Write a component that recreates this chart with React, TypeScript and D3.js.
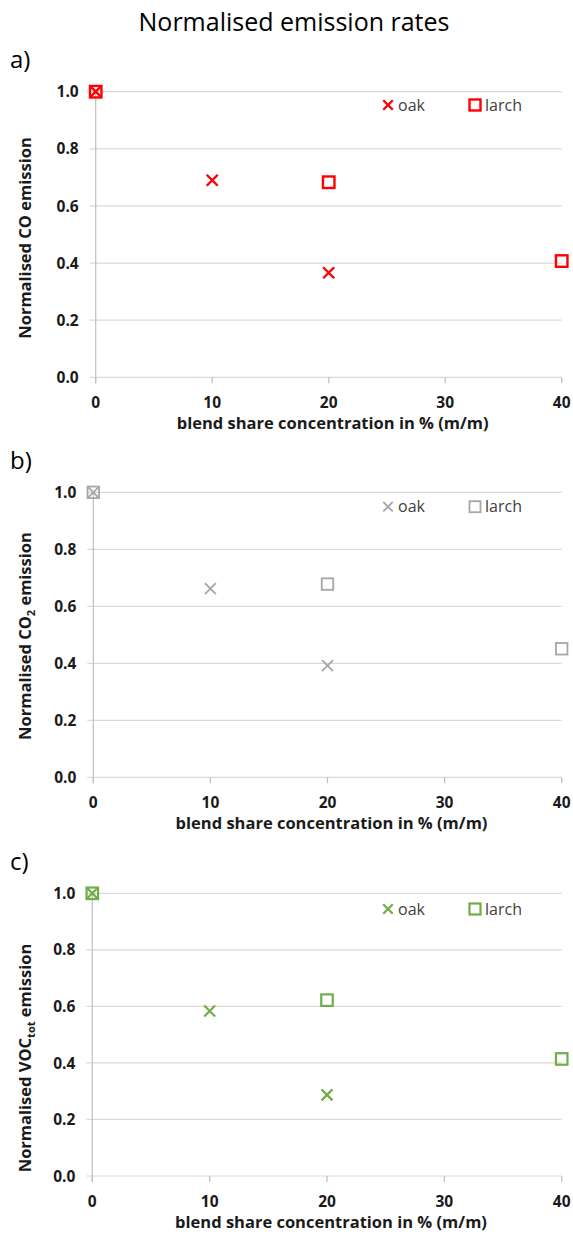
import React from "react";
import * as d3 from "d3";

// Blend share (% m/m) at which each wood type was measured
const oakShare = [0, 10, 20];
const larchShare = [0, 20, 40];

// Emission rates normalised to the pure fuel (share 0 %)
const coOak = [1.0, 0.69, 0.366];
const coLarch = [1.0, 0.683, 0.407];
const co2Oak = [1.0, 0.662, 0.392];
const co2Larch = [1.0, 0.678, 0.451];
const vocOak = [1.0, 0.584, 0.287];
const vocLarch = [1.0, 0.622, 0.414];

const xTicks = [0, 10, 20, 30, 40];
const yTicks = [0, 0.2, 0.4, 0.6, 0.8, 1.0];

const seriesNames = ["oak", "larch"];
const panelLetters = ["a)", "b)", "c)"];

const FONT = "'Open Sans', 'Noto Sans', sans-serif";
const GRID = "#d9d9d9";
const AXIS = "#bfbfbf";
const TICK_SIZE = 15.5;
const TITLE_SIZE = 16.5;

type Panel = {
  letter: string;
  color: string;
  sw: number;
  oak: number[];
  larch: number[];
  label: React.ReactNode;
  labelCenter: number;
  top: number;
  bottom: number;
  left: number;
  legendY: number;
  letterY: number;
};

const panels: Panel[] = [
  {
    letter: panelLetters[0],
    color: "#ff0000",
    sw: 2.4,
    oak: coOak,
    larch: coLarch,
    label: <tspan>Normalised CO emission</tspan>,
    labelCenter: 238,
    top: 91.7,
    bottom: 377.3,
    left: 95.7,
    legendY: 105,
    letterY: 68,
  },
  {
    letter: panelLetters[1],
    color: "#a6a6a6",
    sw: 1.8,
    oak: co2Oak,
    larch: co2Larch,
    label: (
      <>
        <tspan>Normalised CO</tspan>
        <tspan fontSize={11} dy={4}>2</tspan>
        <tspan dy={-4}> emission</tspan>
      </>
    ),
    labelCenter: 636,
    top: 492.3,
    bottom: 777.3,
    left: 93.3,
    legendY: 506.7,
    letterY: 469,
  },
  {
    letter: panelLetters[2],
    color: "#70ad47",
    sw: 2.2,
    oak: vocOak,
    larch: vocLarch,
    label: (
      <>
        <tspan>Normalised VOC</tspan>
        <tspan fontSize={11} dy={4}>tot</tspan>
        <tspan dy={-4}> emission</tspan>
      </>
    ),
    labelCenter: 1058,
    top: 893.3,
    bottom: 1176,
    left: 92.3,
    legendY: 909,
    letterY: 870,
  },
];

const RIGHT = 561.7;

function Cross({ x, y, s, color, sw }: { x: number; y: number; s: number; color: string; sw: number }) {
  const h = s / 2;
  return (
    <path
      d={`M${x - h},${y - h}L${x + h},${y + h}M${x - h},${y + h}L${x + h},${y - h}`}
      stroke={color}
      strokeWidth={sw}
      fill="none"
    />
  );
}

function Square({ x, y, s, color, sw }: { x: number; y: number; s: number; color: string; sw: number }) {
  return (
    <rect x={x - s / 2} y={y - s / 2} width={s} height={s} stroke={color} strokeWidth={sw} fill="none" />
  );
}

function ScatterPanel({ p }: { p: Panel }) {
  const x = d3.scaleLinear().domain([0, 40]).range([p.left, RIGHT]);
  const y = d3.scaleLinear().domain([0, 1]).range([p.bottom, p.top]);
  const fmt = d3.format(".1f");
  return (
    <g>
      <text x={10} y={p.letterY} fontFamily={FONT} fontSize={24} fill="#000">
        {p.letter}
      </text>
      {/* horizontal gridlines with short left ticks */}
      {yTicks.map((t) => (
        <g key={t}>
          <line x1={p.left - 6} x2={RIGHT} y1={y(t)} y2={y(t)} stroke={GRID} strokeWidth={1.2} />
          <text
            x={p.left - 17}
            y={y(t)}
            dy="0.36em"
            textAnchor="end"
            fontFamily={FONT}
            fontWeight="bold"
            fontSize={TICK_SIZE}
            fill="#1a1a1a"
          >
            {fmt(t)}
          </text>
        </g>
      ))}
      {/* vertical axis */}
      <line x1={p.left} x2={p.left} y1={y(1)} y2={y(0) + 6} stroke={AXIS} strokeWidth={1.2} />
      {xTicks.map((t) => (
        <g key={t}>
          <line x1={x(t)} x2={x(t)} y1={y(0)} y2={y(0) + 6} stroke={AXIS} strokeWidth={1.2} />
          <text
            x={x(t)}
            y={y(0) + 25}
            dy="0.36em"
            textAnchor="middle"
            fontFamily={FONT}
            fontWeight="bold"
            fontSize={TICK_SIZE}
            fill="#1a1a1a"
          >
            {t}
          </text>
        </g>
      ))}
      <text
        x={(p.left + RIGHT) / 2 + 4}
        y={y(0) + 46}
        dy="0.36em"
        textAnchor="middle"
        fontFamily={FONT}
        fontWeight="bold"
        fontSize={TITLE_SIZE}
        fill="#1a1a1a"
      >
        blend share concentration in % (m/m)
      </text>
      <text
        transform={`translate(25,${p.labelCenter}) rotate(-90)`}
        dy="0.36em"
        textAnchor="middle"
        fontFamily={FONT}
        fontWeight="bold"
        fontSize={TITLE_SIZE}
        fill="#1a1a1a"
      >
        {p.label}
      </text>
      {/* data markers */}
      {p.oak.map((v, i) => (
        <Cross key={"o" + i} x={x(oakShare[i])} y={y(v)} s={11} color={p.color} sw={p.sw} />
      ))}
      {p.larch.map((v, i) => (
        <Square key={"l" + i} x={x(larchShare[i])} y={y(v)} s={11.5} color={p.color} sw={p.sw} />
      ))}
      {/* legend */}
      <Cross x={388} y={p.legendY} s={9.5} color={p.color} sw={p.sw} />
      <text x={398} y={p.legendY} dy="0.36em" fontFamily={FONT} fontSize={16} fill="#404040">
        {seriesNames[0]}
      </text>
      <Square x={475} y={p.legendY} s={11} color={p.color} sw={p.sw} />
      <text x={485} y={p.legendY} dy="0.36em" fontFamily={FONT} fontSize={16} fill="#404040">
        {seriesNames[1]}
      </text>
    </g>
  );
}

export default function App() {
  return (
    <svg
      width={573}
      height={1238}
      style={{ position: "absolute", left: 0, top: 0, background: "#fff" }}
    >
      <rect width={573} height={1238} fill="#fff" />
      <text x={294} y={31} textAnchor="middle" fontFamily={FONT} fontSize={25} fill="#000">
        Normalised emission rates
      </text>
      {panels.map((p) => (
        <ScatterPanel key={p.letter} p={p} />
      ))}
    </svg>
  );
}
